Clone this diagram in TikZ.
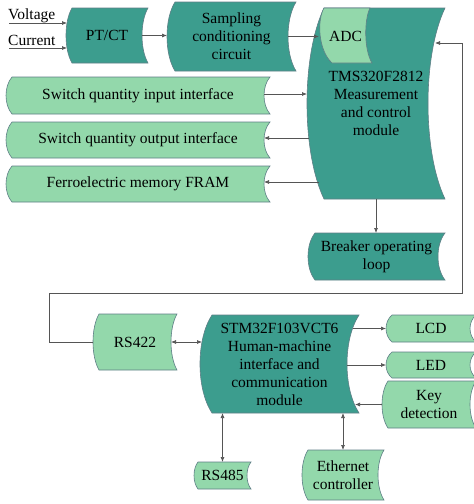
\documentclass[tikz,border=0pt]{standalone}
\usepackage{fontspec}
\setmainfont{Liberation Serif}
\usetikzlibrary{arrows.meta}
\definecolor{darkfill}{HTML}{3C9D8E}
\definecolor{lightfill}{HTML}{93D8AB}
\definecolor{edgec}{HTML}{5E7F86}
\definecolor{wirec}{HTML}{555555}
% #1 name, #2 fill, #3 xl corner, #4 xr corner, #5 top, #6 bottom, #7 depth, #8 text
\newcommand\sdbox[8]{%
  \path[sdline, fill=#2] (#3,#5) -- (#4,#5)
     .. controls ({#4-4*#7/3},{#5+(#6-#5)/4}) and ({#4-4*#7/3},{#6-(#6-#5)/4}) .. (#4,#6)
     -- (#3,#6)
     .. controls ({#3-4*#7/3},{#6-(#6-#5)/4}) and ({#3-4*#7/3},{#5+(#6-#5)/4}) .. cycle;
  \pgfmathsetmacro\sdw{#4-#3+#7}%
  \pgfmathsetmacro\sdh{#6-#5}%
  \pgfmathsetmacro\sdcx{(#3-#7+#4)/2}%
  \pgfmathsetmacro\sdcy{(#5+#6)/2}%
  \node[boxtext, minimum width=\sdw pt, minimum height=\sdh pt] (#1) at (\sdcx,\sdcy) {#8};
}
\begin{document}
\begin{tikzpicture}[x=1pt,y=-1pt,
  sdline/.style={draw=edgec, line width=0.6pt},
  boxtext/.style={inner sep=0pt, outer sep=0pt, align=center, font=\fontsize{15.5}{18}\selectfont, text=black},
  lbl/.style={inner sep=0pt, font=\fontsize{15.5}{18}\selectfont, text=black},
  arr/.style={draw=wirec, line width=0.7pt, -{Latex[length=5pt,width=4pt]}},
  darr/.style={draw=wirec, line width=0.7pt, {Latex[length=5pt,width=4pt]}-{Latex[length=5pt,width=4pt]}},
  plain/.style={draw=wirec, line width=0.7pt}]
\useasboundingbox[fill=white] (0,0) rectangle (474,504);

% top row
\sdbox{ptct}{darkfill}{72}{148}{8}{63}{6}{PT/CT}
\sdbox{samp}{darkfill}{175}{296}{2}{71}{8}{Sampling\\conditioning\\circuit}
\sdbox{tms}{darkfill}{324}{445}{8}{199}{17}{TMS320F2812\\Measurement\\and control\\module}
\path[sdline, fill=lightfill] (324,8) -- (370,8) .. controls (364,20) and (364,50) .. (372,63)
   -- (332,63) .. controls (318,50) and (317,20) .. cycle;
\node[boxtext, minimum width=53pt, minimum height=55pt] (adc) at (345.5,36) {ADC};

% left column
\sdbox{swin}{lightfill}{12}{270}{77}{114}{6}{Switch quantity input interface}
\sdbox{swout}{lightfill}{12}{270}{122}{158}{6}{Switch quantity output interface}
\sdbox{fram}{lightfill}{12}{270}{166}{202}{6}{Ferroelectric memory FRAM}

\sdbox{brk}{darkfill}{315}{445}{233}{280}{7}{Breaker operating\\loop}

% bottom part
\sdbox{rs422}{lightfill}{99}{177}{314}{370}{6}{RS422}
\sdbox{stm}{darkfill}{212}{359}{315}{413}{12}{STM32F103VCT6\\Human-machine\\interface and\\communication\\module}
\sdbox{lcd}{lightfill}{392}{476}{315}{342}{6}{LCD}
\sdbox{led}{lightfill}{392}{476}{352}{378}{6}{LED}
\sdbox{key}{lightfill}{388}{476}{381}{428}{6}{Key\\detection}
\sdbox{rs485}{lightfill}{198}{251}{462}{489}{4}{RS485}
\sdbox{eth}{lightfill}{308}{384}{450}{500}{6}{Ethernet\\controller}

% inputs
\node[lbl, anchor=base west] (vlab) at (8,19.5) {Voltage};
\node[lbl, anchor=base west] (clab) at (8,45) {Current};
\coordinate (vin) at (9,23);
\coordinate (cin) at (9,48);
\draw[arr] (vin) -- ([xshift=1pt]vin -| ptct.west);
\draw[arr] (cin) -- ([xshift=1pt]cin -| ptct.west);

% connectors
\draw[arr] ([xshift=-6pt]ptct.east) -- (ptct.east -| samp.west);
\draw[arr] ([xshift=-8pt]samp.east) -- (samp.east -| adc.west);
\draw[arr] ([xshift=-6pt,yshift=1.5pt]swin.east) -- ([yshift=1.5pt]swin.east -| tms.west);
\draw[arr] ([xshift=2pt,yshift=2pt]tms.west |- swout.east) -- ([xshift=-6pt,yshift=2pt]swout.east);
\draw[arr] ([xshift=12pt,yshift=2pt]tms.west |- fram.east) -- ([xshift=-6pt,yshift=2pt]fram.east);
\draw[arr] (tms.south) -- (tms.south |- brk.north);

% feedback loop
\coordinate (lA) at (49,293);
\coordinate (lB) at (462,43);
\coordinate (tmsin) at (435,43);
\draw[arr] (rs422.west) -| (lA) -| (lB) -- (tmsin);

\draw[darr] ([xshift=-6pt]rs422.east) -- ([xshift=2pt]rs422.east -| stm.west);
\draw[arr] ([xshift=-6pt]stm.east |- lcd.west) -- (lcd.west);
\draw[arr] ([xshift=-12pt]stm.east |- led.west) -- (led.west);
\draw[arr] (key.west) -- ([xshift=-4pt]key.west -| stm.east);
\draw[darr] (stm.south -| rs485.north) -- (rs485.north);
\draw[darr] (stm.south -| eth.north) -- (eth.north);
\end{tikzpicture}
\end{document}
